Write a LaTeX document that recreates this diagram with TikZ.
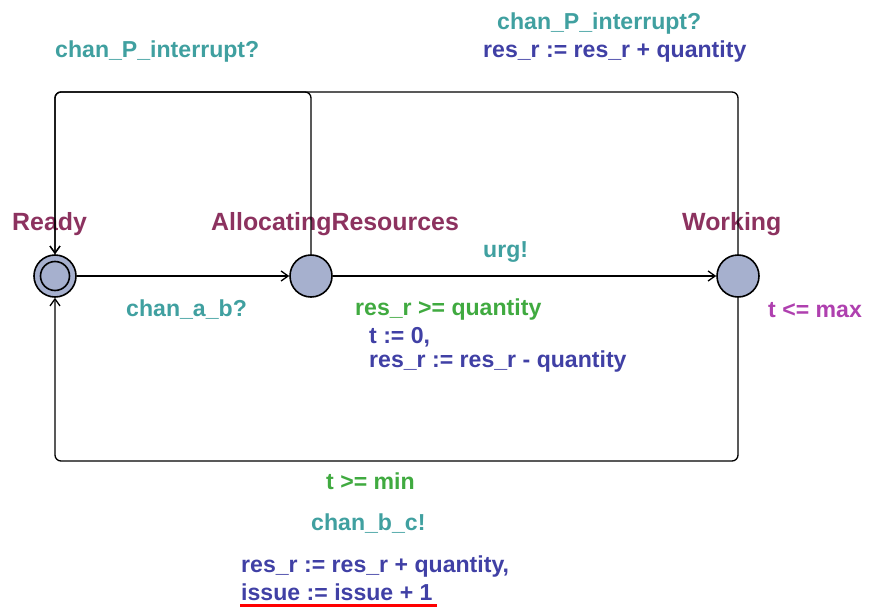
\documentclass[tikz,border=0pt]{standalone}
\usepackage{fontspec}
\setmainfont{Liberation Sans}
\usetikzlibrary{arrows.meta,positioning}
\definecolor{locname}{RGB}{140,50,95}
\definecolor{locfill}{RGB}{166,176,206}
\definecolor{synccol}{RGB}{64,160,160}
\definecolor{guardcol}{RGB}{64,170,64}
\definecolor{updcol}{RGB}{64,64,165}
\definecolor{invcol}{RGB}{175,64,175}

\begin{document}
\begin{tikzpicture}[x=1pt,y=-1pt,
  loc/.style={circle,draw,line width=1.6pt,fill=locfill,minimum size=42pt,inner sep=0pt},
  edge/.style={-{Straight Barb[length=7pt,width=10pt]},line width=1.3pt,rounded corners=6pt},
  lname/.style={anchor=west,inner sep=0pt,yshift=-2pt,text=locname,font=\bfseries\fontsize{24.9}{28}\selectfont},
  lbl/.style={anchor=west,inner sep=0pt,yshift=-2pt,font=\bfseries\fontsize{23.1}{26}\selectfont},
  sync/.style={lbl,text=synccol},
  guard/.style={lbl,text=guardcol},
  upd/.style={lbl,text=updcol},
  inv/.style={lbl,text=invcol}]
\useasboundingbox (0,0) rectangle (872,607);
% locations
\node[loc] (ready) at (55,276) {};
\node[circle,draw,line width=1.6pt,minimum size=29pt,inner sep=0pt] (readyin) at (ready) {};
\node[loc] (alloc) at (311,276) {};
\node[loc] (working) at (738,276) {};
\node[lname] (readyname) at (12,222) {Ready};
\node[lname] (allocname) at (211,222) {AllocatingResources};
\node[lname] (workingname) at (682,222) {Working};
\node[inv] (inv) at (768,308) {t <= max};
% routing levels
\coordinate (top) at (0,92);
\coordinate (bot) at (0,461);
% edges
\draw[edge] (ready) -- (alloc);
\draw[edge] (alloc) -- (working);
\draw[edge] (alloc.north) -- (alloc |- top) -- (ready |- top) -- (ready.north);
\draw[edge] (working.north) -- (working |- top) -- (ready |- top) -- (ready.north);
\draw[edge] (working.south) -- (working |- bot) -- (ready |- bot) -- (ready.south);
% edge labels
\node[sync] (s1) at (126,308) {chan\_a\_b?};
\node[sync] (s2) at (483,250) {urg!};
\node[guard] (g2) at (355,308) {res\_r >= quantity};
\node[upd] (u2a) at (369,335) {t := 0,};
\node[upd] (u2b) at (369,360) {res\_r := res\_r - quantity};
\node[sync] (s3) at (55,50) {chan\_P\_interrupt?};
\node[sync] (s4) at (497,22) {chan\_P\_interrupt?};
\node[upd] (u4) at (483,50) {res\_r := res\_r + quantity};
\node[guard] (g5) at (326,479) {t >= min};
\node[sync] (s5) at (311,522) {chan\_b\_c!};
\node[upd] (u5a) at (241,565) {res\_r := res\_r + quantity,};
\node[upd] (issue) at (241,590) {issue := issue + 1};
\draw[red,line width=4pt] ([xshift=-1pt,yshift=-6pt]issue.base west) -- ([xshift=4pt,yshift=-6pt]issue.base east);
\end{tikzpicture}
\end{document}
